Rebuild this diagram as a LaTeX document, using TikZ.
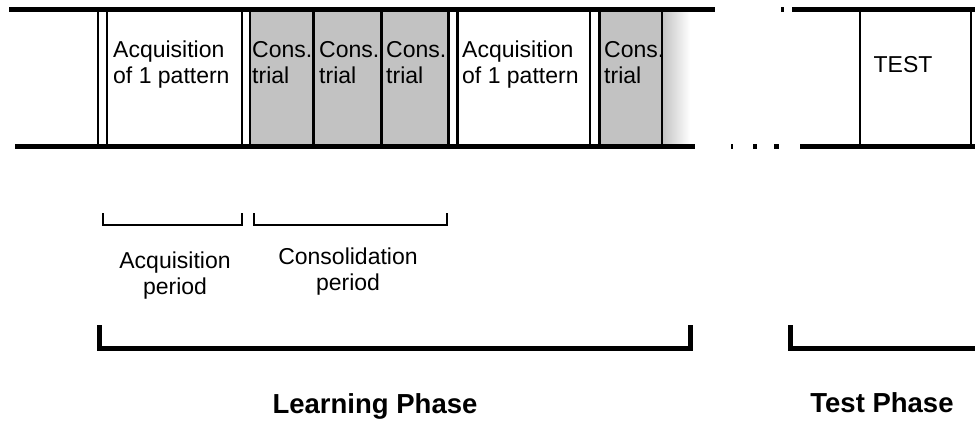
\documentclass[tikz,border=0pt]{standalone}
\usepackage{fontspec}
\setmainfont{Liberation Sans}
\definecolor{cellgray}{gray}{0.76}
\begin{document}
\begin{tikzpicture}[x=1pt,y=-1pt,
  rail/.style={line width=5pt},
  sepline/.style={line width=2.8pt},
  celltext/.style={font=\fontsize{23}{26}\selectfont, inner sep=0pt, align=left, anchor=north west},
  labeltext/.style={font=\fontsize{23}{26}\selectfont, inner sep=0pt, align=center, anchor=north},
  phase/.style={font=\fontsize{27.5}{30}\selectfont\bfseries, inner sep=0pt, anchor=base},
  smallbr/.style={line width=2.2pt},
  bigbr/.style={line width=5pt}]
\useasboundingbox (0,0) rectangle (975,423);
% gray consolidation cells
\fill[cellgray] (250,12) rectangle (448,144);
\fill[cellgray] (599,12) rectangle (662,144);
\shade[left color=cellgray, right color=white] (662,12) rectangle (690,144);
% rails
\draw[rail] (9,9.5) -- (715,9.5);
\draw[rail] (781,9.5) -- (784,9.5);
\draw[rail] (792,9.5) -- (975,9.5);
\draw[rail] (15,146) -- (695,146);
\draw[rail] (731,146) -- (733,146);
\draw[rail] (753,146) -- (757,146);
\draw[rail] (774,146) -- (779,146);
\draw[rail] (800,146) -- (975,146);
% separators
\foreach \x in {98,107,242,250,313.5,381.5,448.5,457.5,590,599.5,662,860,971}
  \draw[sepline] (\x,7) -- (\x,148.5);
% cell texts
\node[celltext] (acq1) at (113,40.5) {Acquisition\\of 1 pattern};
\node[celltext] (c1) at (252,41.5) {Cons.\\trial};
\node[celltext] (c2) at (319,41.5) {Cons.\\trial};
\node[celltext] (c3) at (386,41.5) {Cons.\\trial};
\node[celltext] (acq2) at (462,40.5) {Acquisition\\of 1 pattern};
\node[celltext] (c4) at (604,41.5) {Cons.\\trial};
\node[labeltext] (test) at (903,56.5) {TEST};
% small brackets
\draw[smallbr] (103,213) -- (103,225) -- (242,225) -- (242,213);
\draw[smallbr] (254,213) -- (254,225) -- (447,225) -- (447,213);
\node[labeltext] (acqp) at (175,251.5) {Acquisition\\period};
\node[labeltext] (conp) at (348,247.5) {Consolidation\\period};
% big brackets
\draw[bigbr] (99,325) -- (99,348) -- (690,348) -- (690,325);
\draw[bigbr] (790,325) -- (790,348) -- (980,348);
\node[phase] (learn) at (375,413) {Learning Phase};
\node[phase] (testp) at (882,412) {Test Phase};
\end{tikzpicture}
\end{document}
